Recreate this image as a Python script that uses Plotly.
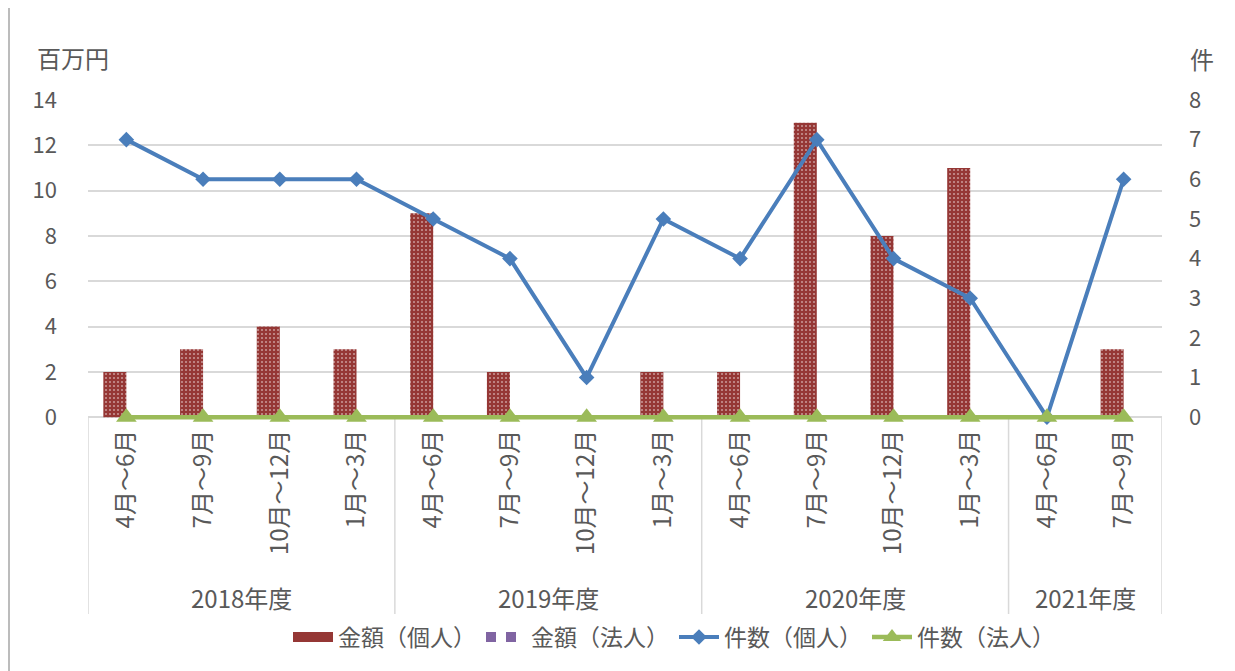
import plotly.graph_objects as go

# ---- data ----
years = ["2018年度", "2019年度", "2020年度", "2021年度"]
quarters_per_year = [4, 4, 4, 2]
quarter_labels = ["4月～6月", "7月～9月", "10月～12月", "1月～3月",
                  "4月～6月", "7月～9月", "10月～12月", "1月～3月",
                  "4月～6月", "7月～9月", "10月～12月", "1月～3月",
                  "4月～6月", "7月～9月"]
amount_individual = [2, 3, 4, 3, 9, 2, 0, 2, 2, 13, 8, 11, 0, 3]
amount_corporate = [0, 0, 0, 0, 0, 0, 0, 0, 0, 0, 0, 0, 0, 0]
count_individual = [7, 6, 6, 6, 5, 4, 1, 5, 4, 7, 4, 3, 0, 6]
count_corporate = [0, 0, 0, 0, 0, 0, 0, 0, 0, 0, 0, 0, 0, 0]

x = list(range(len(quarter_labels)))
FONT = "Noto Sans CJK JP"
GRAY = "#595959"
RED = "#953735"
PURPLE = "#8064A2"
BLUE = "#4A7EBB"
GREEN = "#9BBB59"

# layout geometry (figure pixels; page has an 8px body margin)
W, H = 1227, 663
ML, MR, MT, MB = 80, 73, 92, 247
PW, PH = W - ML - MR, H - MT - MB
PAD = 0.3          # left-axis units kept below zero so the zero-level marks are not clipped
Y1MAX, Y2MAX = 14, 8


def py(fig_y):
    """figure-pixel y -> paper y"""
    return (H - MB - fig_y) / PH


def px(fig_x):
    """figure-pixel x -> paper x"""
    return (fig_x - ML) / PW


zero_paper = PAD / (Y1MAX + PAD)

fig = go.Figure()
fig.add_trace(go.Bar(
    x=x, y=amount_individual, name="金額（個人）", legendgroup="a1", showlegend=False,
    marker=dict(color=RED, line=dict(width=0),
                pattern=dict(shape=".", fgcolor="white", bgcolor=RED,
                             size=4, solidity=0.2)),
    yaxis="y"))
fig.add_trace(go.Bar(
    x=x, y=amount_corporate, name="金額（法人）", legendgroup="a2", showlegend=False,
    marker=dict(color=PURPLE, line=dict(width=0),
                pattern=dict(shape="+", fgcolor="white", bgcolor=PURPLE,
                             size=6, solidity=0.5)),
    yaxis="y"))
# legend swatches for the bar series (wide rectangles like the original)
fig.add_trace(go.Scatter(x=[None], y=[None], mode="lines", name="金額（個人）",
                         legendgroup="a1", line=dict(color=RED, width=14),
                         yaxis="y"))
fig.add_trace(go.Scatter(x=[None], y=[None], mode="lines", name="金額（法人）",
                         legendgroup="a2", line=dict(color=PURPLE, width=14, dash="dot"),
                         yaxis="y"))
fig.add_trace(go.Scatter(
    x=x, y=count_individual, name="件数（個人）", mode="lines+markers",
    line=dict(color=BLUE, width=4),
    marker=dict(symbol="diamond", size=12, color=BLUE),
    cliponaxis=False, yaxis="y2"))
fig.add_trace(go.Scatter(
    x=x, y=count_corporate, name="件数（法人）", mode="lines+markers",
    line=dict(color=GREEN, width=4.5),
    marker=dict(symbol="triangle-up", size=18, color=GREEN),
    cliponaxis=False, yaxis="y2"))

# group dividers and labels computed from group sizes
shapes = []
annotations = []
start = 0
bounds = [-0.5]
for yr, n in zip(years, quarters_per_year):
    end = start + n
    annotations.append(dict(
        x=(start + end - 1) / 2, xref="x", y=py(589), yref="paper",
        text=yr, showarrow=False, font=dict(family=FONT, size=24, color=GRAY),
        yanchor="middle"))
    bounds.append(end - 0.5)
    start = end
for b in bounds:
    shapes.append(dict(type="line", xref="x", yref="paper", x0=b, x1=b,
                       y0=zero_paper, y1=py(606),
                       line=dict(color="#d9d9d9", width=1.5), layer="below"))
# outer chart frame left edge
shapes.append(dict(type="line", xref="paper", yref="paper",
                   x0=px(1), x1=px(1), y0=py(H + 10), y1=py(-10),
                   line=dict(color="#a6a6a6", width=1.5)))

annotations.append(dict(x=px(103), xref="paper", y=py(49), yref="paper",
                        text="百万円", showarrow=False, xanchor="right",
                        yanchor="middle",
                        font=dict(family=FONT, size=24, color=GRAY)))
annotations.append(dict(x=px(1194), xref="paper", y=py(50), yref="paper",
                        text="件", showarrow=False, xanchor="center",
                        yanchor="middle",
                        font=dict(family=FONT, size=24, color=GRAY)))

fig.update_layout(
    width=W, height=H,
    margin=dict(l=ML, r=MR, t=MT, b=MB, autoexpand=False),
    paper_bgcolor="white", plot_bgcolor="white",
    font=dict(family=FONT, color=GRAY, size=21),
    barmode="group", bargap=0.4, bargroupgap=0,
    showlegend=True,
    legend=dict(orientation="h", x=0.5 + 49 / PW, xanchor="center", y=py(629),
                yanchor="middle",
                font=dict(family=FONT, size=23, color=GRAY), traceorder="normal",
                itemwidth=40, tracegroupgap=0),
    xaxis=dict(tickmode="array", tickvals=x, ticktext=quarter_labels,
               tickangle=-90, range=[-0.5, len(x) - 0.5],
               showgrid=False, showline=False,
               ticks="", tickfont=dict(family=FONT, size=24, color=GRAY),
               ticklabelstandoff=0, zeroline=False, automargin=False),
    yaxis=dict(range=[-PAD, Y1MAX], tickvals=list(range(0, Y1MAX + 1, 2)),
               showgrid=True, gridcolor="#d9d9d9",
               gridwidth=1.5, zeroline=True, zerolinecolor="#d9d9d9", zerolinewidth=1.5,
               showline=False, ticks="",
               tickfont=dict(family=FONT, size=22, color=GRAY),
               ticklabelstandoff=30, automargin=False),
    yaxis2=dict(range=[-PAD * Y2MAX / Y1MAX, Y2MAX], tickvals=list(range(0, Y2MAX + 1)),
                overlaying="y", side="right",
                showgrid=False, zeroline=False, showline=False, ticks="",
                tickfont=dict(family=FONT, size=22, color=GRAY),
                ticklabelstandoff=26, automargin=False),
    shapes=shapes, annotations=annotations,
)

fig.write_html("out.html")
